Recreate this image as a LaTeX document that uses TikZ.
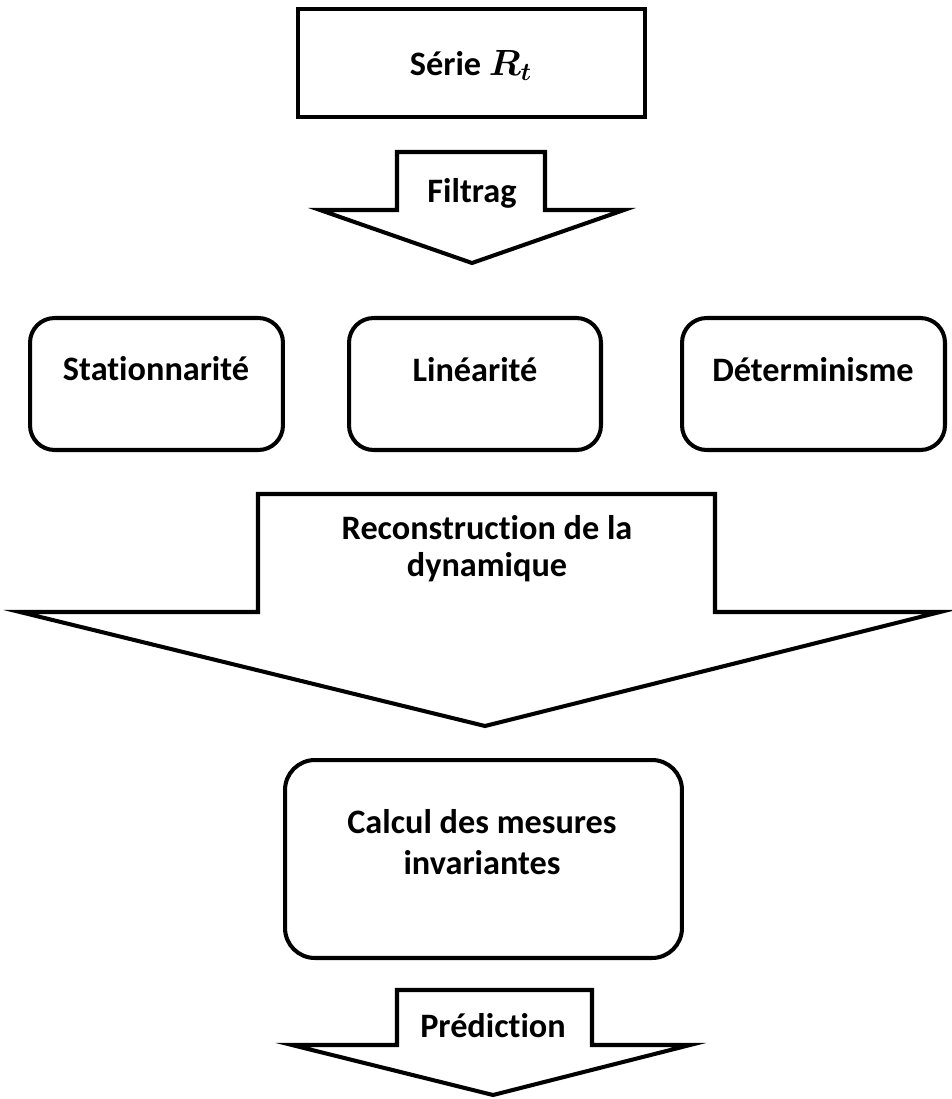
\documentclass[tikz,border=0pt]{standalone}
\usepackage{bm}
\usepackage{fontspec}
\setmainfont{Carlito}[Ligatures=NoCommon]
\usepackage{tikz}
\usetikzlibrary{positioning}

\begin{document}
\begin{tikzpicture}[x=0.02cm,y=-0.02cm]
\tikzset{
  lbl/.style={font=\bfseries\fontsize{19.5}{21}\selectfont, align=center},
  sqbox/.style={draw, line width=2.3pt, minimum width=6.94cm, minimum height=2.16cm},
  rbox/.style={draw, line width=2.3pt, rounded corners=14pt, minimum height=2.64cm},
  bigarrow/.style={draw, line width=2.3pt, line join=miter, fill=white}}
\useasboundingbox (0,0) rectangle (952,1099);

  % serie de depart
  \node[sqbox] (serie) at (471.5,63) {};
  \node[lbl, anchor=base] (serieT) at (471,75) {Série $\bm{R_t}$};

  % filtrage
  \draw[bigarrow] (397,152) -- (545,152) -- (545,210) -- (624,210) -- (472,263)
    -- (320,210) -- (397,210) -- cycle;
  \node[lbl, anchor=base] (filtrage) at (472,202) {Filtrag};

  % les trois tests
  \node[rbox, minimum width=5.06cm] (stat) at (156.5,384) {};
  \node[rbox, minimum width=5.04cm] (lin) at (475,384) {};
  \node[rbox, minimum width=5.26cm] (det) at (813.5,384) {};
  \node[lbl, anchor=base] (statT) at (156,380) {Stationnarité};
  \node[lbl, anchor=base] (linT) at (475,381) {Linéarité};
  \node[lbl, anchor=base] (detT) at (813,381) {Déterminisme};

  % reconstruction
  \draw[bigarrow] (258,494) -- (715,494) -- (715,612) -- (940,612) -- (485,726)
    -- (20,612) -- (258,612) -- cycle;
  \node[lbl] (recon) at (487,549) {Reconstruction de la\\dynamique};

  % mesures invariantes
  \node[rbox, rounded corners=17pt, minimum width=7.94cm, minimum height=3.96cm] (calcul) at (483.5,859) {};
  \node[lbl] (calculT) at (482,842) {Calcul des mesures\\[2pt]invariantes};

  % prediction
  \draw[bigarrow] (397,990) -- (592,990) -- (592,1045) -- (690,1045) -- (493,1095)
    -- (292,1045) -- (397,1045) -- cycle;
  \node[lbl, anchor=base] (pred) at (493,1037) {Prédiction};
\end{tikzpicture}
\end{document}
